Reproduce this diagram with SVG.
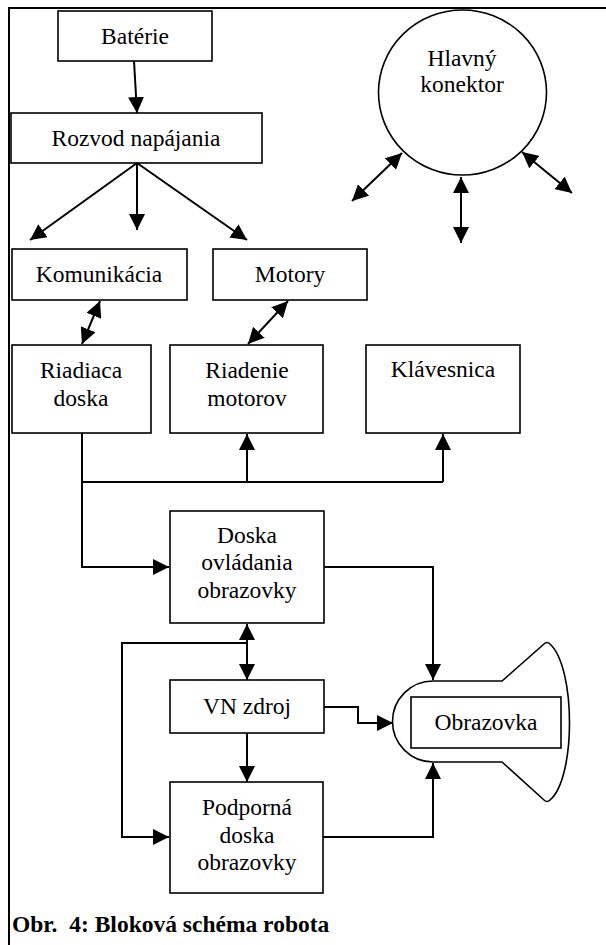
<svg xmlns="http://www.w3.org/2000/svg" width="606" height="945" viewBox="0 0 606 945" font-family="'Liberation Serif', 'Times New Roman', serif">
<defs>
<marker id="ah" viewBox="0 0 16 16" markerWidth="16" markerHeight="16" refX="16" refY="8" orient="auto-start-reverse" markerUnits="userSpaceOnUse">
<path d="M0,0 L16,8 L0,16 z" fill="#000"/>
</marker>
<style>
.box{fill:#fff;stroke:#000;stroke-width:1.6}
.t{font-family:'Liberation Serif','Times New Roman',serif;font-size:23.5px;fill:#000;text-anchor:middle}
.c{fill:none;stroke:#000;stroke-width:2}
.e{marker-end:url(#ah)}
.b{marker-start:url(#ah);marker-end:url(#ah)}
.frame{fill:none;stroke:#000;stroke-width:2}
</style>
</defs>
<rect width="606" height="945" fill="#fff"/>
<path class="frame" d="M9,945 L9,8 L606,8"/>

<g id="bateria"><rect class="box" x="58" y="11" width="154" height="50"/><text class="t" x="135" y="44">Batérie</text></g>
<g id="rozvod"><rect class="box" x="11" y="113" width="251" height="50"/><text class="t" x="136" y="146">Rozvod napájania</text></g>
<g id="hlavny-konektor"><ellipse cx="462.5" cy="92.5" rx="84" ry="82.5" fill="#fff" stroke="#000" stroke-width="1.6"/><text class="t" x="462" y="66">Hlavný</text><text class="t" x="462" y="92">konektor</text></g>
<g id="komunikacia"><rect class="box" x="12" y="249" width="175" height="51"/><text class="t" x="99" y="282">Komunikácia</text></g>
<g id="motory"><rect class="box" x="213" y="249" width="154" height="51"/><text class="t" x="290" y="282">Motory</text></g>
<g id="riadiaca-doska"><rect class="box" x="12" y="345" width="139" height="88"/><text class="t" x="81" y="378">Riadiaca</text><text class="t" x="81" y="406">doska</text></g>
<g id="riadenie-motorov"><rect class="box" x="170" y="345" width="153" height="88"/><text class="t" x="247" y="378">Riadenie</text><text class="t" x="247" y="406">motorov</text></g>
<g id="klavesnica"><rect class="box" x="366" y="345" width="154" height="88"/><text class="t" x="443" y="377">Klávesnica</text></g>
<g id="doska-ovladania"><rect class="box" x="170" y="511" width="154" height="112"/><text class="t" x="247" y="543">Doska</text><text class="t" x="247" y="570">ovládania</text><text class="t" x="247" y="598">obrazovky</text></g>
<g id="vn-zdroj"><rect class="box" x="170" y="680" width="154" height="53"/><text class="t" x="247" y="714">VN zdroj</text></g>
<g id="podporna-doska"><rect class="box" x="170" y="782" width="153" height="111"/><text class="t" x="247" y="815">Podporná</text><text class="t" x="247" y="843">doska</text><text class="t" x="247" y="870">obrazovky</text></g>
<g id="obrazovka">
<path d="M433,762 A40.5,40.5 0 0 1 433,681 L502,681 L544,644 Q547,641 550,644 C576,668 576,778 550,800 Q547,803 544,800 L502,762 Z" fill="#fff" stroke="#000" stroke-width="1.6"/>
<rect class="box" x="411" y="697" width="150" height="51"/>
<text class="t" x="486" y="730">Obrazovka</text>
</g>

<g id="connectors">
<path class="c e" d="M134,61 L137,113"/>
<path class="c e" d="M137,163 L30,240"/>
<path class="c e" d="M137,163 L137,230"/>
<path class="c e" d="M137,163 L247,240"/>
<path class="c b" d="M402,153 L352,201"/>
<path class="c b" d="M461,177 L461,243"/>
<path class="c b" d="M522,152 L572,193"/>
<path class="c b" d="M100,301 L82,344"/>
<path class="c b" d="M288,301 L248,344"/>
<path class="c e" d="M82,433 L82,567 L169,567"/>
<path class="c" d="M82,482 L443,482"/>
<path class="c e" d="M247,482 L247,434"/>
<path class="c e" d="M443,482 L443,434"/>
<path class="c e" d="M324,567 L433,567 L433,680"/>
<path class="c b" d="M247,624 L247,680"/>
<path class="c e" d="M247,643 L122,643 L122,837 L169,837"/>
<path class="c e" d="M324,707 L358,707 L358,723 L393,723"/>
<path class="c e" d="M247,733 L247,782"/>
<path class="c e" d="M323,837 L433,837 L433,763"/>
</g>

<text x="12" y="932" xml:space="preserve" font-family="'Liberation Serif', 'Times New Roman', serif" font-size="23.5" font-weight="bold">Obr.  4: Bloková schéma robota</text>
</svg>
